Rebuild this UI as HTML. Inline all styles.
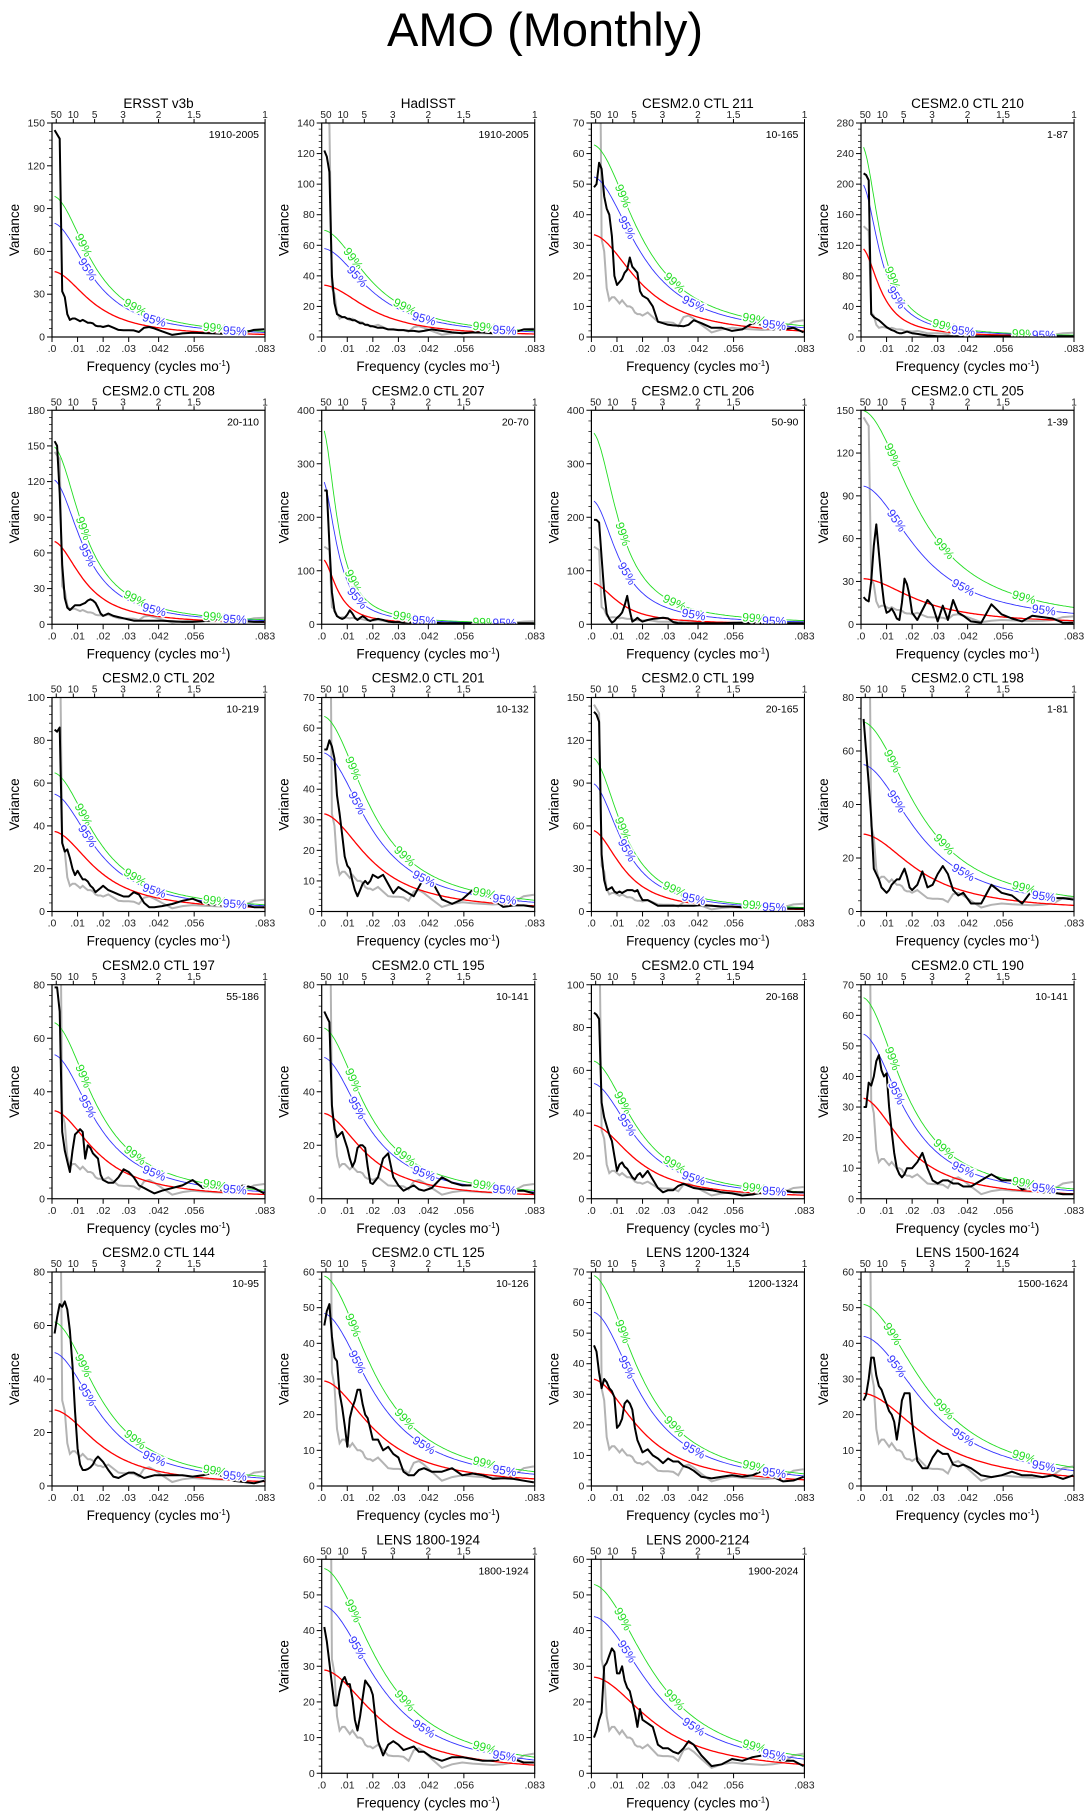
<!DOCTYPE html>
<html><head><meta charset="utf-8"><title>AMO (Monthly)</title>
<style>
html,body{margin:0;padding:0;background:#fff;}
svg{display:block;font-family:"Liberation Sans",Arial,sans-serif;}
</style></head>
<body>
<svg id="fig" xmlns="http://www.w3.org/2000/svg" width="1090" height="1815" viewBox="0 0 1090 1815">
<rect width="1090" height="1815" fill="#fff"/>
<text x="545" y="46" font-size="47" text-anchor="middle" fill="#000">AMO (Monthly)</text>
</svg>
<script>
// ---- data ----
const freqs = [0.001,0.002,0.003,0.004,0.005,0.006,0.007,0.008,0.009,0.010,0.011,0.012,0.013,0.014,0.015,0.016,0.017,0.018,0.019,0.020,0.022,0.024,0.026,0.028,0.030,0.032,0.034,0.036,0.038,0.040,0.043,0.047,0.051,0.055,0.059,0.063,0.067,0.071,0.075,0.079,0.083];
const ersstSpec = [145,142,139,32,28,16,12,13,13,12,11,12,11,10,10,9.5,8,7.5,7.5,7,8,6.5,5,4.8,4.8,4.6,3.5,6.5,7,6,4,1.5,2.5,3,2.7,2.5,2.3,2.5,3,5,5.5];
const panelTitles = ["ERSST v3b","HadISST","CESM2.0 CTL 211","CESM2.0 CTL 210","CESM2.0 CTL 208","CESM2.0 CTL 207","CESM2.0 CTL 206","CESM2.0 CTL 205","CESM2.0 CTL 202","CESM2.0 CTL 201","CESM2.0 CTL 199","CESM2.0 CTL 198","CESM2.0 CTL 197","CESM2.0 CTL 195","CESM2.0 CTL 194","CESM2.0 CTL 190","CESM2.0 CTL 144","CESM2.0 CTL 125","LENS 1200-1324","LENS 1500-1624","LENS 1800-1924","LENS 2000-2124"];
const yearRanges = ["1910-2005","1910-2005","10-165","1-87","20-110","20-70","50-90","1-39","10-219","10-132","20-165","1-81","55-186","10-141","20-168","10-141","10-95","10-126","1200-1324","1500-1624","1800-1924","1900-2024"];
const yMaxes = [150,140,70,280,180,400,400,150,100,70,150,80,80,80,100,70,80,60,70,60,60,60];
const yStepsArr = [30,20,10,40,30,100,100,30,20,10,30,20,20,20,20,10,20,10,10,10,10,10];
const redLevel0 = [46,34,33.5,117,70,123,77,32,37.5,32,57,29,33,32,34.5,33,28.5,29.5,35,26,29,27];
const redLag1 = [0.9,0.88,0.88,0.95,0.92,0.96,0.93,0.86,0.89,0.88,0.92,0.86,0.89,0.89,0.89,0.89,0.88,0.87,0.88,0.84,0.86,0.85];
const conf95Level0 = [80,58,52.5,202,122,272,232,97,55,52,90,55,54,53,54,54,50,48.5,57,42,47,44];
const conf99Level0 = [99,70,63,252,150,370,360,150,65,64,108,71,66,64,64.5,66,61.5,59,69,51,57.5,53];
const spectra = [
 ersstSpec,
 [122,118,108,40,22,15,14,13,13,12,12,11,11,10,9,9,8,8,7,7,6,6,5,5,4.5,4.5,4,4,3.5,4,5,4,3,2.5,3,3,2.5,3,3,5,5],
 [49,50,57,55,46,42,40,33,20,17,18,19,21,22,26,23,22,21,15,13.5,12.5,10,5,4.5,4,3.8,3.7,3.5,4,5.5,4.5,3,3,2,2.5,4.5,4,2.5,2.5,3,1.5],
 [214,212,205,30,26,24,22,19,16,13,11,9,8,6,5,5,6,7,6,5,4,3,2,1.5,1,1,1,1,1,0.8,0.8,0.8,0.8,0.8,0.8,0.8,0.8,1,1,1,1],
 [154,150,110,50,22,14,12,14,16,16,16,17,18,20,21,20,18,14,9,7,9,7,6,5,4,3,3,3,3,3,3,2.5,2,2,2.5,3.5,4,3,2.5,2,2],
 [250,250,150,60,25,15,12,10,12,18,26,20,12,8,12,15,12,8,6,8,10,8,5,4,4,3,3,3,3,3,3,2,2,2,2,2,2,2,2,2,2],
 [195,195,190,125,60,20,10,3,6,12,16,22,35,53,25,5,8,12,8,5,8,10,11,12,11,4,2,2,2,2,2,2,2,2.5,3,2.5,2,2,2,2,2],
 [19,17,16,30,55,70,50,30,15,8,9,11,8,4,3,15,32,28,20,8,3,10,17,13,2,13,3,17,8,6,2,1,14,7,4,2,6,5,4,1,1],
 [85,84,86,32,28,29,25,20,17,19,17,15,15,14,12,11,9,10,11,12,10,9,8,7,7,9,8,4,2,2,2.5,3.5,5,6,4,3,3,4,3,2,2],
 [53,53,56,54,50,38,32,25,18,15,14,10,7,5,7,9,10,9,10,12,11,12,9,6,8,7,6,5,8,11,10,4,2.5,4,7,6,4,1.5,2,2,1.5],
 [140,138,133,40,22,15,16,17,14,13,14,13,14,15,15,15,14,15,11,8,8,6,4,4,4,4,4,4,4,4,4.5,4,3.5,3.5,3,3,2.5,2.5,2,2,2],
 [72,60,48,35,16,14,12,9,8,7,8,10,11,12,12,14,16,13,9,8,10,15,9,10,14,17,14,8,6,7,3,3,10,7,6,3,8,4.5,5,5,4.5],
 [79,79,70,25,18,14,10,18,24,25,26,25,15,20,19,17,16,15,9,7,6,6,8,11,10,8,5,4,3,2,3,4,5,7,4,4.5,3,4,5,4,2],
 [70,68,66,35,26,23,24,25,22,19,15,12,14,19,20,20,19,12,6,5.5,8,15,17,8,5,3,4,5,3.5,3,4,8,6,5,5,4,5,4,3,3,2],
 [87,86,84,45,38,34,30,27,20,13,16,17,15,14,12,10,9,11,12,10,13,9,5,3,4,4,6,7,6,5,4.5,4,3,2.5,1.5,2,3,4,4,3,3],
 [30,30,38,37,40,45,47,42,40,41,30,22,15,10,8,7,8,10,10,10,12,15,10,6,5,6,6,5,5,4,4,6,8,6,6,3,4,2,2,1.5,1.5],
 [57,63,68,67,69,66,58,45,28,14,8,6,6,6.3,7,8,10,11,10,9,6,3.5,3,4,5,5,4,3,3.5,4,4,4,4,3.5,4,5,3.5,2,1.5,1,2],
 [45,49,51,42,36,35,26,22,17,11,19,22,24,27,27,23,20,19,16,13,13,10,11,9,8,4,3,3,4.5,5,4,4,5,3,3.5,3,2,2.2,2,1.5,1],
 [46,44,37,32,35,34,32,31,29,19,20,22,27,28,27,25,19,15,13,11,12,10,9,7.5,9,8,8,6.5,6,5,3,2.5,3,3.5,3,3.5,5,3,1.5,1.8,3],
 [24,25.5,30,36,36,31,28,27,25,23,21,20,18,13,18,24,26,26,26,18,7,5,5,8,10,9,9,6,5.5,6,5,3,2.5,3,4,3,3,2.5,3,2,3],
 [41,37,31,25,19,19,23,26,27,25,25,21,15,12,16,21,26,25,24,22,9,5,8,9,8,6.5,7,7.5,6,6,4.5,3.5,4.5,4.5,4,3.5,3.5,4,4,3,3],
 [10,12,15,17,30,31,33,35,34,28,28,30,26,24,23,20,17,13,18,15,14,13,8,7,7,6,5.5,7,9,8,5,2,2.5,4,3.5,4.5,5,4,3.5,3.5,2]
];
const bottomTickVals = [0,0.01,0.02,0.03,0.0417,0.0556,0.0833];
const bottomTickLabels = [".0",".01",".02",".03",".042",".056",".083"];
const topPeriods = [50,10,5,3,2,1.5,1];
const label99Freqs = [0.0123,0.0325,0.0637];
const label95Freqs = [0.0139,0.040,0.0715];

// ---- layout ----
const NS = "http://www.w3.org/2000/svg";
const svg = document.getElementById('fig');
const PW = 213, PH = 214, FMAX = 0.0833;
const colX = [52, 321.7, 591.4, 861];
function rowTop(r){ return 123 + 287.25*r; }
function mk(tag, attrs, parent){ const e=document.createElementNS(NS,tag); for(const k in attrs) e.setAttribute(k,attrs[k]); (parent||svg).appendChild(e); return e; }
function redNoise(f, s0, r){ return s0*(1-r)*(1-r)/(1-2*r*Math.cos(2*Math.PI*f)+r*r); }

spectra.forEach((spec, i) => {
  let row, col;
  if (i < 20) { row = Math.floor(i/4); col = i%4; } else { row = 5; col = i-19; }
  const L = colX[col], T = rowTop(row), B = T+PH, R = L+PW;
  const ymax = yMaxes[i];
  const sx = f => L + f/FMAX*PW;
  const sy = v => B - v/ymax*PH;
  const g = mk('g', {});
  
  
  const cid = 'clip'+i;
  const cp = mk('clipPath', {id:cid}, g);
  mk('rect', {x:L, y:T, width:PW, height:PH}, cp);

  const t = mk('text', {x:L+PW/2, y:T-15, 'font-size':13.5, 'text-anchor':'middle'}, g);
  t.textContent = panelTitles[i];
  
  
  const yr = mk('text', {x:R-6, y:T+15, 'font-size':10.5, 'text-anchor':'end'}, g);
  yr.textContent = yearRanges[i];
  
  

  const step = yStepsArr[i];
  for (let v=0; v<=ymax+1e-9; v+=step) {
    const y = sy(v);
    mk('line', {x1:L-5, x2:L, y1:y, y2:y, stroke:'#000', 'stroke-width':1}, g);
    const tl = mk('text', {x:L-7, y:y+3.5, 'font-size':10.5, 'text-anchor':'end', fill:'#222'}, g);
    tl.textContent = String(v);
    
    
    if (v < ymax) for (let k=1;k<5;k++){ const ym = sy(v+step*k/5); mk('line',{x1:L-3,x2:L,y1:ym,y2:ym,stroke:'#000','stroke-width':0.7},g); }
  }
  const yl = mk('text', {x:0, y:0, 'font-size':13.5, 'text-anchor':'middle', transform:`translate(${L-33},${T+PH/2}) rotate(-90)`}, g);
  yl.textContent = 'Variance';
  
  

  bottomTickVals.forEach((f, k) => {
    const x = sx(f);
    mk('line', {x1:x, x2:x, y1:B, y2:B+5, stroke:'#000', 'stroke-width':1}, g);
    const bl = mk('text', {x:x, y:B+15, 'font-size':10.5, 'text-anchor':'middle', fill:'#222'}, g);
    bl.textContent = bottomTickLabels[k];
    
    
  });
  const xl = mk('text', {x:L+PW/2, y:B+34, 'font-size':13.5, 'text-anchor':'middle'}, g);
  
  
  xl.appendChild(document.createTextNode('Frequency (cycles mo'));
  const sup = mk('tspan', {'font-size':8, dy:-5}, xl); sup.textContent='-1';
  const cl = mk('tspan', {dy:5}, xl); cl.textContent=')';

  topPeriods.forEach(p => {
    const x = sx(1/(12*p));
    mk('line', {x1:x, x2:x, y1:T, y2:T-4, stroke:'#000', 'stroke-width':1}, g);
    const tl = mk('text', {x:x, y:T-5, 'font-size':10, 'text-anchor':'middle', fill:'#222'}, g);
    tl.textContent = String(p);
    
    
  });

  const pg = mk('g', {'clip-path':`url(#${cid})`}, g);
  if (i > 0) {
    const gp = mk('polyline', {points: freqs.map((f,k)=>`${sx(f).toFixed(1)},${sy(ersstSpec[k]).toFixed(1)}`).join(' '), fill:'none', stroke:'#b3b3b3', 'stroke-width':2}, pg);
    
    
  }
  const curves = [[redLevel0[i],'#ff0000',1.3,'red-noise-curve'],[conf95Level0[i],'#3333ff',0.9,'conf-95-curve'],[conf99Level0[i],'#22dd22',0.9,'conf-99-curve']];
  const r = redLag1[i];
  curves.forEach(c => {
    const pts = [];
    for (let k=0;k<=120;k++){ const f = 0.001 + (FMAX-0.001)*k/120; pts.push(`${sx(f).toFixed(1)},${sy(redNoise(f,c[0],r)).toFixed(1)}`); }
    const pl = mk('polyline', {points:pts.join(' '), fill:'none', stroke:c[1], 'stroke-width':c[2]}, pg);
    
    
  });
  const bp = mk('polyline', {points: spec.map((v,k)=>`${sx(freqs[k]).toFixed(1)},${sy(v).toFixed(1)}`).join(' '), fill:'none', stroke:'#000', 'stroke-width':2, 'stroke-linejoin':'round'}, pg);
  
  

  function addLabel(f, s0, txt, color, name){
    const y1 = sy(redNoise(f, s0, r)), y2 = sy(redNoise(f+0.0005, s0, r));
    const ang = Math.atan2(y2-y1, sx(f+0.0005)-sx(f))*180/Math.PI;
    const lt = mk('text', {x:0, y:0, 'font-size':12, 'text-anchor':'middle', fill:color, stroke:'#fff', 'stroke-width':3, 'paint-order':'stroke', transform:`translate(${sx(f).toFixed(1)},${y1.toFixed(1)}) rotate(${ang.toFixed(1)}) translate(0,4)`}, pg);
    lt.textContent = txt;
    
    
  }
  label99Freqs.forEach(f => addLabel(f, conf99Level0[i], '99%', '#22dd22', 'label-99-percent'));
  label95Freqs.forEach(f => addLabel(f, conf95Level0[i], '95%', '#3333ff', 'label-95-percent'));

  const fr = mk('rect', {x:L, y:T, width:PW, height:PH, fill:'none', stroke:'#000', 'stroke-width':1.2}, g);
  
  
});
</script>
</body></html>
